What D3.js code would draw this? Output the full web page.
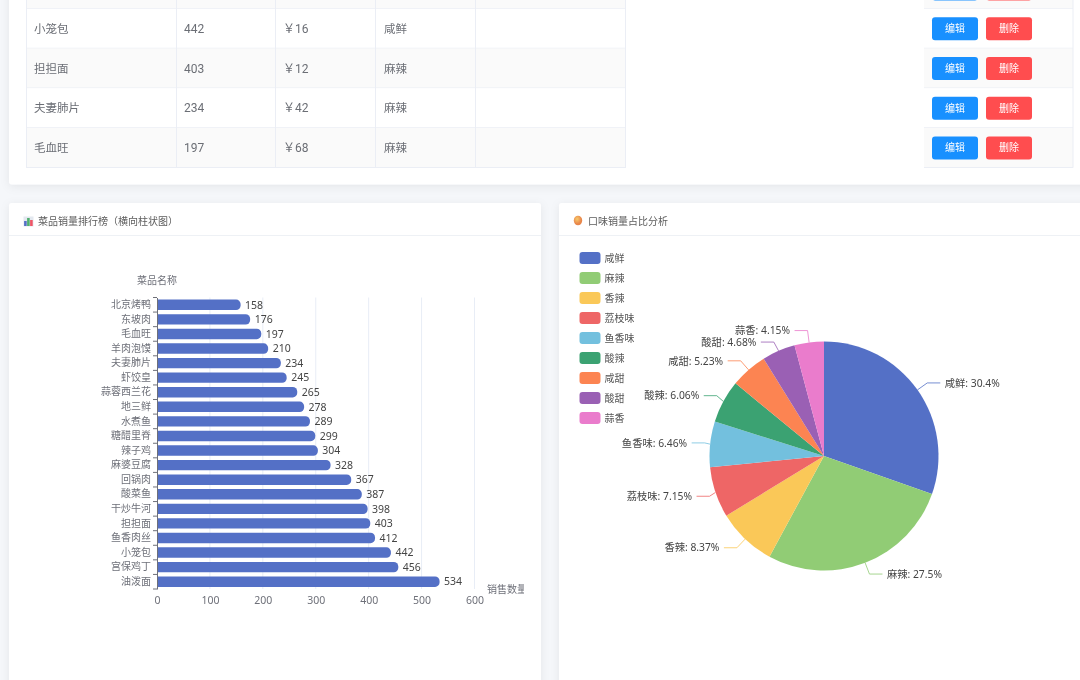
<!DOCTYPE html>
<html><head><meta charset="utf-8">
<script src="https://cdn.jsdelivr.net/npm/d3@7/dist/d3.min.js"></script>
<style>
html,body{margin:0;padding:0;background:#f5f7fa;overflow:hidden}
svg{display:block;filter:blur(0.55px)}
text{font-family:"Noto Sans","Noto Sans CJK SC",sans-serif}
text.num{font-family:Roboto,"Noto Sans CJK SC",sans-serif}
</style></head><body>
<svg id="c" width="1080" height="680"></svg>
<script>
const dishes=["北京烤鸭","东坡肉","毛血旺","羊肉泡馍","夫妻肺片","虾饺皇","蒜蓉西兰花","地三鲜","水煮鱼","糖醋里脊","辣子鸡","麻婆豆腐","回锅肉","酸菜鱼","干炒牛河","担担面","鱼香肉丝","小笼包","宫保鸡丁","油泼面"];
const sales=[158,176,197,210,234,245,265,278,289,299,304,328,367,387,398,403,412,442,456,534];
const xTicks=[0,100,200,300,400,500,600];
const flavors=["咸鲜","麻辣","香辣","荔枝味","鱼香味","酸辣","咸甜","酸甜","蒜香"];
const shares=[30.4,27.5,8.37,7.15,6.46,6.06,5.23,4.68,4.15];
const colors=["#5470c6","#91cc75","#fac858","#ee6666","#73c0de","#3ba272","#fc8452","#9a60b4","#ea7ccc"];
const rowNames=["小笼包","担担面","夫妻肺片","毛血旺"];
const rowSales=["442","403","234","197"];
const rowPrices=["￥16","￥12","￥42","￥68"];
const rowTastes=["咸鲜","麻辣","麻辣","麻辣"];
const columnEdges=[26,176,275,375,475,625];

const svg=d3.select("#c");
const defs=svg.append("defs");
const sh=defs.append("filter").attr("id","sh").attr("x","-5%").attr("y","-10%").attr("width","110%").attr("height","120%");
sh.append("feDropShadow").attr("dx",0).attr("dy",2).attr("stdDeviation",5).attr("flood-color","#000").attr("flood-opacity",0.07);
const g=defs.append("radialGradient").attr("id","orange").attr("cx","40%").attr("cy","35%");
g.append("stop").attr("offset","0%").attr("stop-color","#f7c96b");
g.append("stop").attr("offset","100%").attr("stop-color","#e8864a");
defs.append("clipPath").attr("id","clipBar").append("rect").attr("x",9).attr("y",236).attr("width",515).attr("height",444);

// cards
[[9,-40,1100,224.5],[9,203,532,520],[559,203,560,520]].forEach(c=>{
  svg.append("rect").attr("x",c[0]).attr("y",c[1]).attr("width",c[2]).attr("height",c[3]).attr("rx",3).attr("fill","#fff").attr("filter","url(#sh)");
});
svg.append("line").attr("x1",9).attr("x2",541).attr("y1",235.5).attr("y2",235.5).attr("stroke","#eef1f5");
svg.append("line").attr("x1",559).attr("x2",1080).attr("y1",235.5).attr("y2",235.5).attr("stroke","#eef1f5");

// table: a partly hidden row sits above the four visible ones
const rowY=d3.scaleLinear().domain([0,4]).range([8.75,167.75]);
const border="#ebeef5";
d3.range(-1,4).forEach(i=>{
  const y0=rowY(i),y1=rowY(i+1),fill=(i+1)%2===0?"#fafafa":"#fff",mid=(y0+y1)/2;
  svg.append("rect").attr("x",26).attr("y",y0).attr("width",600).attr("height",y1-y0).attr("fill",fill);
  svg.append("rect").attr("x",924).attr("y",y0).attr("width",149).attr("height",y1-y0).attr("fill",fill);
  [[26,626],[924,1073]].forEach(s=>svg.append("line").attr("x1",s[0]).attr("x2",s[1]).attr("y1",y1-.25).attr("y2",y1-.25).attr("stroke",border));
  if(i>=0){
    [rowNames,rowSales,rowPrices,rowTastes].forEach((col,k)=>{
      const isNum=k===1||k===2;
      svg.append("text").attr("class",isNum?"num":null).attr("x",columnEdges[k]+(k===3?9:8)).attr("y",mid).attr("dy","0.36em").attr("font-size",isNum?12:11.5).attr("fill","#6b6e75").text(col[i]);
    });
  }
  [["编辑","#1890ff",932],["删除","#ff4d4f",986]].forEach(b=>{
    svg.append("rect").attr("x",b[2]).attr("y",mid-11.5).attr("width",46).attr("height",23).attr("rx",3).attr("fill",b[1]);
    if(i>=0) svg.append("text").attr("x",b[2]+23).attr("y",mid).attr("dy","0.36em").attr("text-anchor","middle").attr("font-size",10).attr("fill","#fff").text(b[0]);
  });
});
columnEdges.forEach(x=>svg.append("line").attr("x1",x+.5).attr("x2",x+.5).attr("y1",0).attr("y2",167.75).attr("stroke",border));
svg.append("line").attr("x1",1073).attr("x2",1073).attr("y1",0).attr("y2",167.75).attr("stroke",border);

// card titles
svg.append("rect").attr("x",23.5).attr("y",216.5).attr("width",10).attr("height",10).attr("fill","#e3e8ef");
[[0.6,"#5470c6",5],[3.6,"#4fb06f",8],[6.6,"#ee5566",6]].forEach(b=>{
  svg.append("rect").attr("x",23.5+b[0]).attr("y",226-b[2]).attr("width",2.6).attr("height",b[2]).attr("fill",b[1]);
});
svg.append("text").attr("x",38).attr("y",221).attr("dy","0.36em").attr("font-size",10).attr("fill","#5c5c5c").text("菜品销量排行榜（横向柱状图）");
svg.append("ellipse").attr("cx",578).attr("cy",220.5).attr("rx",4.2).attr("ry",4.8).attr("fill","url(#orange)");
svg.append("text").attr("x",588).attr("y",221).attr("dy","0.36em").attr("font-size",10).attr("fill","#5c5c5c").text("口味销量占比分析");

// bar chart
const x=d3.scaleLinear().domain([0,600]).range([157,474.5]);
const y=d3.scaleBand().domain(dishes).range([297.5,589]);
const bar=svg.append("g").attr("clip-path","url(#clipBar)");
bar.append("g").selectAll("line").data(xTicks.slice(1)).join("line")
  .attr("x1",d=>x(d)).attr("x2",d=>x(d)).attr("y1",y.range()[0]).attr("y2",y.range()[1]).attr("stroke","#e8edf6");
const bh=10.4;
bar.append("g").selectAll("path").data(dishes).join("path").attr("fill",colors[0])
  .attr("d",d=>{
    const i=dishes.indexOf(d),x0=x(0),x1=x(sales[i]),t=y(d)+y.bandwidth()/2-bh/2,r=4.5;
    return `M${x0},${t}H${x1-r}A${r},${r} 0 0 1 ${x1},${t+r}V${t+bh-r}A${r},${r} 0 0 1 ${x1-r},${t+bh}H${x0}Z`;
  });
bar.append("g").selectAll("text").data(dishes).join("text")
  .attr("x",d=>x(sales[dishes.indexOf(d)])+4.5).attr("y",d=>y(d)+y.bandwidth()/2).attr("dy","0.36em")
  .attr("font-size",10.5).attr("fill","#444").text(d=>sales[dishes.indexOf(d)]);
const ya=bar.append("g").attr("transform","translate(157,0)").call(d3.axisLeft(y).tickSize(0).tickPadding(6));
ya.select(".domain").attr("stroke","#6e7079");
ya.selectAll("text").attr("font-size",10).attr("fill","#6e7079").attr("font-family",null);
bar.append("g").selectAll("line").data(d3.range(dishes.length+1)).join("line")
  .attr("x1",153).attr("x2",157).attr("y1",i=>y.range()[0]+i*y.step()).attr("y2",i=>y.range()[0]+i*y.step()).attr("stroke","#6e7079");
const xa=bar.append("g").attr("transform","translate(0,589)").call(d3.axisBottom(x).tickValues(xTicks).tickSize(0).tickPadding(8));
xa.select(".domain").remove();
xa.selectAll("text").attr("font-size",10.5).attr("fill","#6e7079").attr("font-family",null);
bar.append("text").attr("x",157).attr("y",280).attr("dy","0.36em").attr("text-anchor","middle").attr("font-size",10).attr("fill","#6e7079").text("菜品名称");
bar.append("text").attr("x",487).attr("y",589).attr("dy","0.36em").attr("font-size",10).attr("fill","#6e7079").text("销售数量");

// legend
const ly=d3.scaleLinear().domain([0,1]).range([258,278]);
flavors.forEach((f,i)=>{
  svg.append("rect").attr("x",579.5).attr("y",ly(i)-6).attr("width",21).attr("height",12).attr("rx",3).attr("fill",colors[i]);
  svg.append("text").attr("x",604.5).attr("y",ly(i)).attr("dy","0.36em").attr("font-size",10).attr("fill","#555").text(f);
});

// pie
const cx=824,cy=456,R=114.5,minGap=11.5;
const arcs=d3.pie().sort(null)(shares);
const arc=d3.arc().innerRadius(0).outerRadius(R);
const p=svg.append("g").attr("transform",`translate(${cx},${cy})`);
p.selectAll("path").data(arcs).join("path").attr("d",arc).attr("fill",(d,i)=>colors[i]);
const labels=arcs.map((a,i)=>{
  const m=(a.startAngle+a.endAngle)/2,sx=Math.sin(m),sy=-Math.cos(m);
  return {i,sx,sy,side:sx>=0?1:-1,ey:sy*(R+12)};
});
// push labels on one side apart when they would collide
[1,-1].forEach(side=>{
  const s=labels.filter(l=>l.side===side).sort((a,b)=>a.ey-b.ey);
  s.forEach((l,k)=>{ if(k>0&&l.ey-s[k-1].ey<minGap) l.ey=s[k-1].ey+minGap; });
});
labels.forEach(l=>{
  const pull=l.side<0?Math.max(0,-l.sx-.7)*22:0;
  const ex=l.sx*(R+12)+pull,hx=ex+l.side*13;
  p.append("polyline").attr("points",[[l.sx*R,l.sy*R],[ex,l.ey],[hx,l.ey]].join(" ")).attr("fill","none").attr("stroke",colors[l.i]).attr("stroke-opacity",.8);
  p.append("text").attr("x",hx+l.side*4.5).attr("y",l.ey).attr("dy","0.36em").attr("text-anchor",l.side>0?"start":"end")
   .attr("font-size",10.3).attr("fill","#444").text(`${flavors[l.i]}: ${d3.format(".3r")(shares[l.i])}%`);
});
</script></body></html>
